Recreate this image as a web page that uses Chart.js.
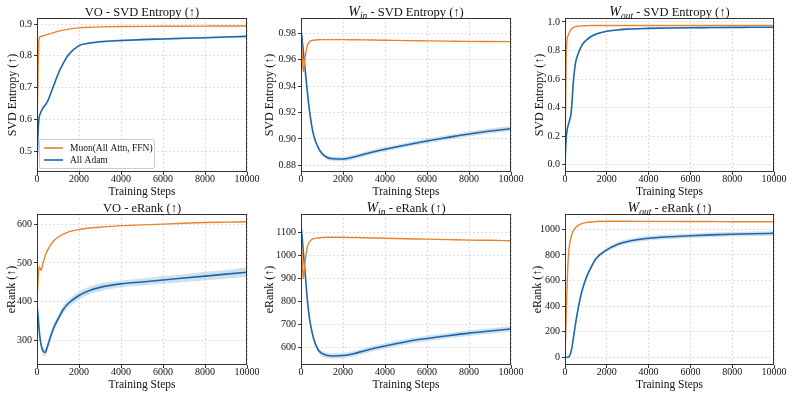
<!DOCTYPE html>
<html>
<head>
<meta charset="utf-8">
<script src="https://cdn.jsdelivr.net/npm/chart.js@4.4.1/dist/chart.umd.min.js"></script>
<style>
  body { margin: 0; background: #fff; width: 793px; height: 397px; position: relative; overflow: hidden; }
  canvas { position: absolute; }
</style>
</head>
<body>
<canvas id="c0"></canvas>
<canvas id="c1"></canvas>
<canvas id="c2"></canvas>
<canvas id="c3"></canvas>
<canvas id="c4"></canvas>
<canvas id="c5"></canvas>
<script>
const steps = [0, 50, 100, 150, 200, 300, 400, 500, 600, 800, 1000, 1250, 1500, 2000, 2500, 3000, 4000, 5000, 6000, 7000, 8000, 9000, 10000];
const xTicks = [0, 2000, 4000, 6000, 8000, 10000];
const seriesNames = ["Muon(All Attn, FFN)", "All Adam"];

// VO - SVD entropy
const voEntMuon = [0.55, 0.75, 0.855, 0.860, 0.861, 0.863, 0.865, 0.867, 0.869, 0.873, 0.877, 0.881, 0.884, 0.888, 0.890, 0.891, 0.892, 0.8925, 0.893, 0.893, 0.8935, 0.894, 0.894];
const voEntAdam = [0.46, 0.56, 0.605, 0.617, 0.625, 0.637, 0.646, 0.656, 0.672, 0.707, 0.742, 0.776, 0.803, 0.832, 0.840, 0.844, 0.848, 0.851, 0.853, 0.855, 0.857, 0.859, 0.861];
const voEntBand = [0.004, 0.004, 0.004, 0.004, 0.004, 0.004, 0.004, 0.004, 0.004, 0.004, 0.004, 0.004, 0.004, 0.003, 0.003, 0.003, 0.003, 0.003, 0.003, 0.003, 0.003, 0.003, 0.003];
const voEntTicks = [0.5, 0.6, 0.7, 0.8, 0.9];

// W_in - SVD entropy
const winEntMuon = [0.980, 0.966, 0.951, 0.955, 0.962, 0.9705, 0.9735, 0.9745, 0.9748, 0.9751, 0.9752, 0.9752, 0.9752, 0.9752, 0.9751, 0.975, 0.9748, 0.9745, 0.9743, 0.9741, 0.9739, 0.9738, 0.9737];
const winEntAdam = [0.983, 0.976, 0.968, 0.960, 0.952, 0.936, 0.922, 0.911, 0.903, 0.894, 0.889, 0.886, 0.885, 0.8848, 0.8864, 0.8885, 0.8922, 0.8955, 0.8985, 0.9012, 0.9038, 0.906, 0.9078];
const winEntBand = [0.0005, 0.0005, 0.0006, 0.0007, 0.0008, 0.001, 0.0012, 0.0013, 0.0014, 0.0015, 0.0016, 0.0017, 0.0017, 0.0017, 0.0017, 0.0017, 0.0017, 0.0017, 0.0018, 0.0018, 0.0019, 0.0019, 0.002];
const winEntTicks = [0.88, 0.90, 0.92, 0.94, 0.96, 0.98];

// W_out - SVD entropy
const woutEntMuon = [0.02, 0.70, 0.88, 0.905, 0.925, 0.95, 0.96, 0.967, 0.970, 0.973, 0.974, 0.975, 0.975, 0.975, 0.975, 0.975, 0.975, 0.975, 0.9755, 0.9755, 0.976, 0.976, 0.976];
const woutEntAdam = [0.0, 0.17, 0.24, 0.275, 0.30, 0.37, 0.58, 0.71, 0.765, 0.835, 0.87, 0.898, 0.915, 0.935, 0.944, 0.95, 0.955, 0.958, 0.960, 0.961, 0.962, 0.963, 0.963];
const woutEntBand = [0.003, 0.004, 0.005, 0.005, 0.006, 0.006, 0.007, 0.007, 0.007, 0.007, 0.007, 0.007, 0.007, 0.006, 0.006, 0.006, 0.006, 0.006, 0.006, 0.006, 0.006, 0.006, 0.006];
const woutEntTicks = [0.0, 0.2, 0.4, 0.6, 0.8, 1.0];

// VO - eRank
const voRankMuon = [400, 455, 491, 486, 481, 502, 520, 533, 542, 557, 566, 574, 580, 586, 590, 592, 596, 598, 600, 602, 604, 605, 606];
const voRankAdam = [390, 365, 330, 303, 288, 272, 270, 285, 303, 333, 355, 380, 396, 416, 429, 437, 446, 451, 456, 461, 466, 471, 476];
const voRankBand = [3, 5, 7, 8, 9, 10, 10, 10, 10, 10, 10, 10, 10, 10, 10, 10, 9, 9, 10, 10, 11, 11, 12];
const voRankTicks = [300, 400, 500, 600];

// W_in - eRank
const winRankMuon = [1090, 990, 898, 935, 975, 1035, 1058, 1068, 1072, 1075, 1077, 1078, 1078, 1078, 1077, 1076, 1074, 1072, 1070, 1068, 1066, 1065, 1063];
const winRankAdam = [1133, 1082, 1027, 973, 920, 810, 730, 678, 640, 593, 575, 566, 564, 566, 574, 586, 607, 626, 640, 652, 663, 672, 681];
const winRankBand = [3, 4, 5, 6, 7, 8, 9, 10, 10, 11, 12, 12, 12, 12, 12, 12, 12, 12, 12, 12, 12, 12, 12];
const winRankTicks = [600, 700, 800, 900, 1000, 1100];

// W_out - eRank
const woutRankMuon = [0, 280, 560, 760, 860, 945, 990, 1012, 1027, 1045, 1053, 1058, 1061, 1063, 1063, 1063, 1062, 1062, 1061, 1061, 1060, 1060, 1060];
const woutRankAdam = [0, 0, 1, 2, 8, 50, 150, 258, 355, 510, 615, 705, 775, 840, 882, 905, 930, 942, 950, 957, 962, 966, 969];
const woutRankBand = [1, 1, 2, 3, 4, 6, 8, 10, 12, 14, 15, 16, 16, 17, 18, 18, 18, 18, 18, 18, 18, 18, 18];
const woutRankTicks = [0, 200, 400, 600, 800, 1000];

const titleMain = ["VO", "W", "W", "VO", "W", "W"];
const titleSub = ["", "in", "out", "", "in", "out"];
const titleMetric = ["SVD Entropy", "SVD Entropy", "SVD Entropy", "eRank", "eRank", "eRank"];
const yTitles = ["SVD Entropy (↑)", "SVD Entropy (↑)", "SVD Entropy (↑)", "eRank (↑)", "eRank (↑)", "eRank (↑)"];
const xTitle = "Training Steps";

const SERIF = "'Liberation Serif', 'Times New Roman', serif";
const ORANGE = "#e8832e";
const BLUE = "#1f66a8";
const BAND = "rgba(31, 119, 180, 0.22)";

const panels = [
  { muon: voEntMuon, adam: voEntAdam, band: voEntBand, ticks: voEntTicks, min: 0.434, max: 0.919, dec: 1,
    left: 37, top: 18, w: 210, h: 154, yW: 31, legend: true },
  { muon: winEntMuon, adam: winEntAdam, band: winEntBand, ticks: winEntTicks, min: 0.875, max: 0.9916, dec: 2,
    left: 301, top: 18, w: 210, h: 154, yW: 38 },
  { muon: woutEntMuon, adam: woutEntAdam, band: woutEntBand, ticks: woutEntTicks, min: -0.052, max: 1.028, dec: 1,
    left: 565, top: 18, w: 209, h: 154, yW: 32 },
  { muon: voRankMuon, adam: voRankAdam, band: voRankBand, ticks: voRankTicks, min: 237, max: 626, dec: 0,
    left: 37, top: 214, w: 210, h: 151, yW: 32 },
  { muon: winRankMuon, adam: winRankAdam, band: winRankBand, ticks: winRankTicks, min: 525, max: 1179, dec: 0,
    left: 301, top: 214, w: 210, h: 151, yW: 38 },
  { muon: woutRankMuon, adam: woutRankAdam, band: woutRankBand, ticks: woutRankTicks, min: -60, max: 1120, dec: 0,
    left: 565, top: 214, w: 209, h: 151, yW: 34 },
];

const TOP_PAD = 19;
const RIGHT_PAD = 14;
const X_AXIS_H = 27;

// frame, title and legend drawn on top of the chart
const decorPlugin = {
  id: "decor",
  afterDraw(chart, args, opts) {
    const { ctx, chartArea: a } = chart;
    ctx.save();
    ctx.strokeStyle = "#333";
    ctx.lineWidth = 1;
    ctx.strokeRect(Math.round(a.left) + 0.5, Math.round(a.top) + 0.5, Math.round(a.width) - 1, Math.round(a.height) - 1);

    // title with optional italic subscript
    const i = opts.index;
    const parts = [];
    if (titleSub[i]) {
      parts.push({ t: titleMain[i], font: "italic 14px " + SERIF, dy: 0 });
      parts.push({ t: titleSub[i], font: "italic 9.5px " + SERIF, dy: 3 });
    } else {
      parts.push({ t: titleMain[i], font: "12.5px " + SERIF, dy: 0 });
    }
    parts.push({ t: " - " + titleMetric[i] + " (↑)", font: "12.5px " + SERIF, dy: 0 });
    let total = 0;
    parts.forEach(p => { ctx.font = p.font; p.w = ctx.measureText(p.t).width; total += p.w; });
    let x = (a.left + a.right) / 2 - total / 2;
    const base = a.top - 2.5;
    ctx.fillStyle = "#111";
    ctx.textBaseline = "alphabetic";
    ctx.textAlign = "left";
    parts.forEach(p => { ctx.font = p.font; ctx.fillText(p.t, x, base + p.dy); x += p.w; });

    if (opts.legend) {
      const bx = a.left + 2, by = a.bottom - 33, bw = 115, bh = 29;
      ctx.fillStyle = "rgba(255,255,255,0.85)";
      ctx.strokeStyle = "#cccccc";
      ctx.lineWidth = 1;
      ctx.beginPath();
      ctx.roundRect(bx + 0.5, by + 0.5, bw, bh, 2);
      ctx.fill();
      ctx.stroke();
      ctx.font = "9.5px " + SERIF;
      ctx.textBaseline = "middle";
      const cols = [ORANGE, BLUE];
      seriesNames.forEach((name, k) => {
        const ly = by + 9 + k * 12;
        ctx.strokeStyle = cols[k];
        ctx.lineWidth = 1.6;
        ctx.beginPath();
        ctx.moveTo(bx + 5, ly);
        ctx.lineTo(bx + 24, ly);
        ctx.stroke();
        ctx.fillStyle = "#111";
        ctx.fillText(name, bx + 31, ly);
      });
    }
    ctx.restore();
  },
};

function pts(arr) {
  return steps.map((s, i) => ({ x: s, y: arr[i] }));
}

panels.forEach((p, i) => {
  const canvas = document.getElementById("c" + i);
  const cw = p.yW + p.w + RIGHT_PAD;
  const ch = TOP_PAD + p.h + X_AXIS_H;
  canvas.width = cw;
  canvas.height = ch;
  canvas.style.left = (p.left - p.yW) + "px";
  canvas.style.top = (p.top - TOP_PAD) + "px";

  const lo = p.adam.map((v, k) => v - p.band[k]);
  const hi = p.adam.map((v, k) => v + p.band[k]);
  const lineBase = { pointRadius: 0, cubicInterpolationMode: "monotone", fill: false };

  new Chart(canvas, {
    type: "line",
    data: {
      datasets: [
        { ...lineBase, label: seriesNames[0], data: pts(p.muon), borderColor: ORANGE, borderWidth: 1.4 },
        { ...lineBase, label: seriesNames[1], data: pts(p.adam), borderColor: BLUE, borderWidth: 1.6 },
        { ...lineBase, label: "lo", data: pts(lo), borderColor: "transparent", borderWidth: 0 },
        { ...lineBase, label: "hi", data: pts(hi), borderColor: "transparent", borderWidth: 0,
          fill: "-1", backgroundColor: BAND },
      ],
    },
    options: {
      responsive: false,
      animation: false,
      devicePixelRatio: 1,
      layout: { padding: { top: TOP_PAD, left: 0, right: 0, bottom: 0 } },
      plugins: {
        legend: { display: false },
        tooltip: { enabled: false },
        decor: { index: i, legend: !!p.legend },
      },
      scales: {
        x: {
          type: "linear",
          min: 0,
          max: 10000,
          afterBuildTicks: (s) => { s.ticks = xTicks.map(v => ({ value: v })); },
          afterFit: (s) => { s.height = X_AXIS_H; s.paddingLeft = 0; s.paddingRight = RIGHT_PAD; },
          ticks: {
            maxRotation: 0,
            padding: -2,
            color: "#111",
            font: { family: SERIF, size: 10 },
            callback: (v) => String(v),
          },
          grid: { color: "#dddddd", tickColor: "#333", tickLength: 3, tickBorderDash: [] },
          border: { display: false, dash: [2, 2] },
          title: { display: true, text: xTitle, color: "#111", padding: 0, font: { family: SERIF, size: 11.5 } },
        },
        y: {
          min: p.min,
          max: p.max,
          afterBuildTicks: (s) => { s.ticks = p.ticks.map(v => ({ value: v })); },
          afterFit: (s) => { s.width = p.yW; s.paddingTop = 0; s.paddingBottom = 0; },
          ticks: {
            padding: 2,
            color: "#111",
            font: { family: SERIF, size: 10 },
            callback: (v) => Number(v).toFixed(p.dec),
          },
          grid: { color: "#dddddd", tickColor: "#333", tickLength: 3, tickBorderDash: [] },
          border: { display: false, dash: [2, 2] },
          title: { display: true, text: yTitles[i], color: "#111", padding: 0, font: { family: SERIF, size: 12 } },
        },
      },
    },
    plugins: [decorPlugin],
  });
});
</script>
</body>
</html>
